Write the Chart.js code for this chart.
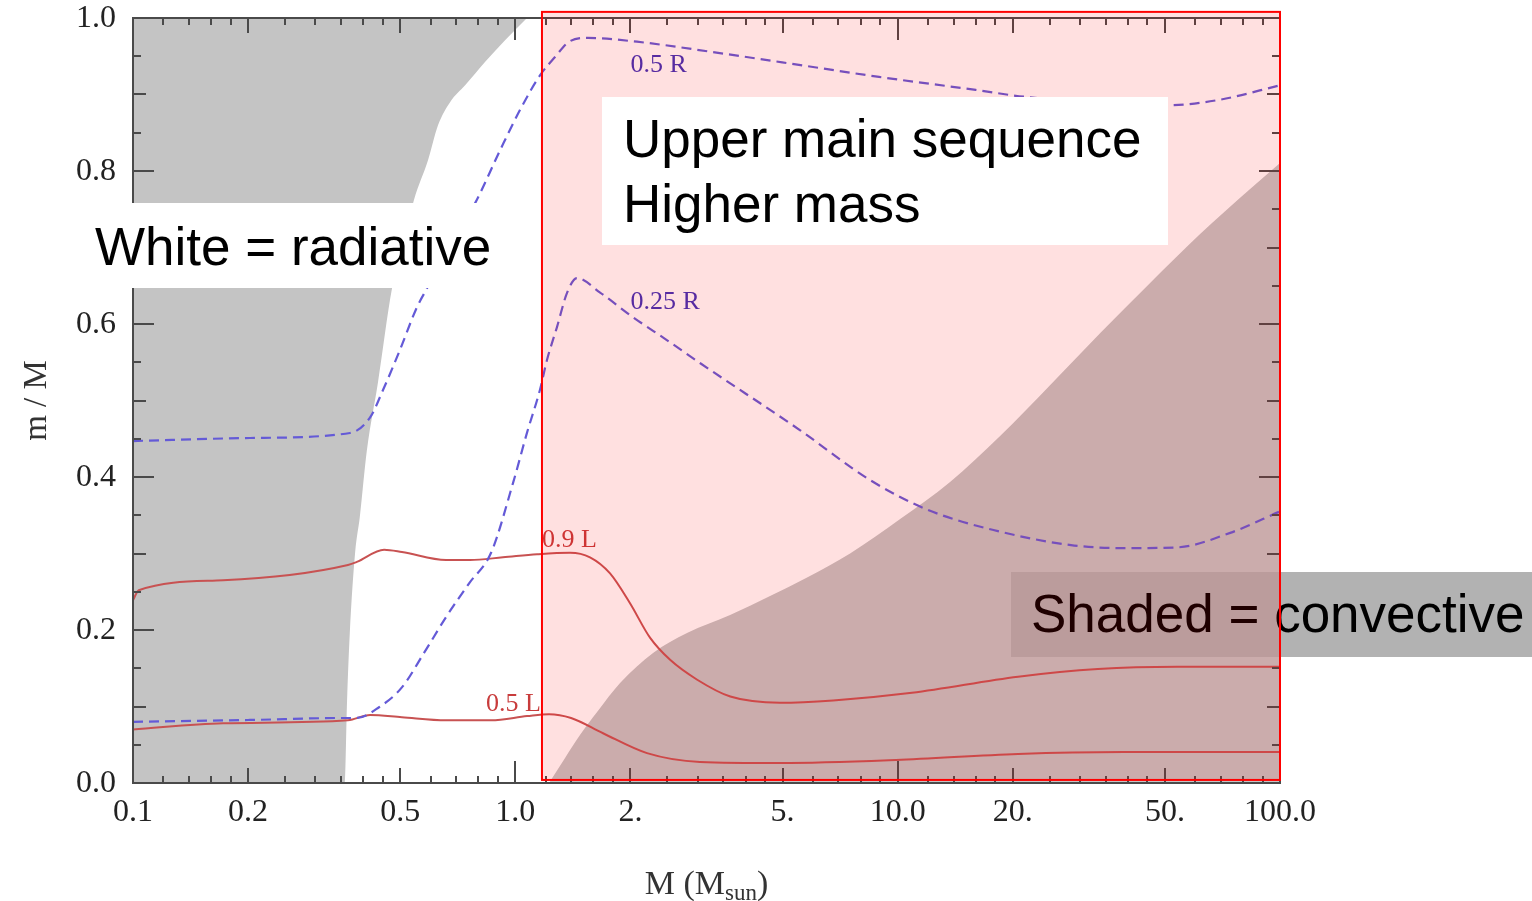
<!DOCTYPE html>
<html>
<head>
<meta charset="utf-8">
<script src="https://cdn.jsdelivr.net/npm/chart.js@4.4.1/dist/chart.umd.min.js"></script>
<style>
  body { margin: 0; background: #fff; }
  #wrap { width: 1532px; height: 901px; }
</style>
</head>
<body>
<div id="wrap"><canvas id="chart" width="1532" height="901"></canvas></div>
<script>
// x = stellar mass M (M_sun), y = m / M

// convective envelope (grey, left): lower edge of the shaded zone
var envelopeMass = [0.1, 0.358, 0.363, 0.369, 0.381, 0.392, 0.409, 0.437, 0.476, 0.512, 0.543, 0.591, 0.628, 0.675, 0.739, 0.833, 0.94, 1.073];
var envelopeEdge = [0.0, 0.0, 0.108, 0.196, 0.301, 0.348, 0.435, 0.523, 0.647, 0.710, 0.762, 0.814, 0.860, 0.890, 0.912, 0.9425, 0.971, 1.0];

// convective core (grey, right): upper edge of the shaded zone
var coreMass = [1.225, 1.349, 1.476, 1.636, 1.879, 2.292, 2.812, 3.645, 4.637, 5.761, 7.508, 10.15, 13.71, 18.53, 25.03, 33.83, 45.73, 61.8, 83.52, 100];
var coreEdge = [0.0, 0.0327, 0.0627, 0.0928, 0.1307, 0.170, 0.196, 0.2196, 0.2444, 0.268, 0.300, 0.345, 0.3935, 0.4536, 0.520, 0.588, 0.6536, 0.7176, 0.7765, 0.8105];

// radius contours (dashed)
var r50Mass = [0.1, 0.2023, 0.3695, 0.417, 0.451, 0.499, 0.553, 0.588, 0.675, 0.785, 0.912, 1.029, 1.16, 1.27, 1.382, 1.549, 2.08, 3.23, 4.99, 8.94, 16.0, 21.5, 51.6, 69.3, 100];
var r50Frac = [0.447, 0.451, 0.4575, 0.478, 0.514, 0.566, 0.622, 0.647, 0.703, 0.758, 0.827, 0.880, 0.925, 0.949, 0.969, 0.974, 0.969, 0.956, 0.942, 0.923, 0.906, 0.897, 0.886, 0.893, 0.912];

var r25Mass = [0.1, 0.202, 0.358, 0.385, 0.440, 0.505, 0.577, 0.659, 0.757, 0.864, 0.986, 1.073, 1.16, 1.21, 1.285, 1.366, 1.45, 1.666, 2.03, 2.49, 3.04, 5.56, 8.47, 12.0, 17.7, 28.4, 39.1, 53.8, 74.1, 100];
var r25Frac = [0.080, 0.0824, 0.085, 0.085, 0.099, 0.125, 0.170, 0.217, 0.261, 0.301, 0.392, 0.458, 0.514, 0.553, 0.596, 0.641, 0.660, 0.641, 0.609, 0.579, 0.549, 0.461, 0.396, 0.357, 0.331, 0.311, 0.307, 0.308, 0.327, 0.355];

// luminosity contours (solid)
var l90Mass = [0.1, 0.1035, 0.172, 0.365, 0.385, 0.4537, 0.505, 0.659, 0.761, 0.928, 1.14, 1.39, 1.568, 1.769, 1.995, 2.25, 2.54, 2.99, 3.65, 4.92, 6.78, 10.9, 20.65, 33.4, 53.8, 100];
var l90Frac = [0.239, 0.252, 0.265, 0.285, 0.289, 0.305, 0.302, 0.2915, 0.2915, 0.295, 0.299, 0.301, 0.295, 0.274, 0.235, 0.190, 0.161, 0.135, 0.113, 0.105, 0.108, 0.118, 0.139, 0.149, 0.152, 0.152];

var l50Mass = [0.1, 0.172, 0.365, 0.417, 0.505, 0.659, 0.864, 1.073, 1.225, 1.399, 1.696, 2.21, 3.04, 4.92, 9.90, 20.65, 39.1, 100];
var l50Frac = [0.070, 0.078, 0.082, 0.089, 0.086, 0.082, 0.082, 0.0875, 0.090, 0.085, 0.065, 0.039, 0.0275, 0.026, 0.030, 0.038, 0.0405, 0.0405];

// axis ticks
var xTickValues = [0.1, 0.2, 0.5, 1, 2, 5, 10, 20, 50, 100];
var xTickLabels = ['0.1', '0.2', '0.5', '1.0', '2.', '5.', '10.0', '20.', '50.', '100.0'];
var xMajorTicks = [0.1, 1, 10, 100];
var xMidTicks = [0.2, 0.5, 2, 5, 20, 50];
var xMinorTicks = [0.12, 0.14, 0.16, 0.18, 0.25, 0.3, 0.35, 0.4, 0.45, 0.6, 0.7, 0.8, 0.9,
                   1.2, 1.4, 1.6, 1.8, 2.5, 3, 3.5, 4, 4.5, 6, 7, 8, 9,
                   12, 14, 16, 18, 25, 30, 35, 40, 45, 60, 70, 80, 90];
var yTickValues = [0, 0.2, 0.4, 0.6, 0.8, 1.0];
var yTickLabels = ['0.0', '0.2', '0.4', '0.6', '0.8', '1.0'];
var yMidTicks = [0.1, 0.3, 0.5, 0.7, 0.9];
var yMinorTicks = [0.05, 0.15, 0.25, 0.35, 0.45, 0.55, 0.65, 0.75, 0.85, 0.95];

// contour labels [text, M, m/M at baseline, colour]
var curveLabels = [
  ['0.5 R', 2.0, 0.929, '#4032b8'],
  ['0.25 R', 2.0, 0.620, '#4032b8'],
  ['0.9 L', 1.174, 0.3085, '#c83c3c'],
  ['0.5 L', 0.838, 0.094, '#c83c3c']
];

// highlighted "upper main sequence" window (M range, m/M range)
var upperMass = [1.174, 100];
var upperFrac = [0.004, 1.008];

var grey = '#c4c4c4';
var blue = 'rgb(100,90,215)';
var red = '#c85252';

function pts(xs, ys) {
  return xs.map(function (x, i) { return { x: x, y: ys[i] }; });
}

var serif = "'Liberation Serif', 'Times New Roman', serif";
var sans = "'Liberation Sans', Arial, sans-serif";

var decor = {
  id: 'decor',
  afterDatasetsDraw: function (chart) {
    var ctx = chart.ctx, a = chart.chartArea;
    var xs = chart.scales.x, ys = chart.scales.y;
    ctx.save();
    ctx.strokeStyle = '#4a4a4a';
    ctx.lineWidth = 2;
    function seg(x1, y1, x2, y2) {
      ctx.beginPath(); ctx.moveTo(x1, y1); ctx.lineTo(x2, y2); ctx.stroke();
    }
    function xt(list, len) {
      list.forEach(function (v) {
        var p = Math.round(xs.getPixelForValue(v));
        seg(p, a.bottom, p, a.bottom - len);
        seg(p, a.top, p, a.top + len);
      });
    }
    function yt(list, len) {
      list.forEach(function (v) {
        var p = Math.round(ys.getPixelForValue(v));
        seg(a.left, p, a.left + len, p);
        seg(a.right, p, a.right - len, p);
      });
    }
    xt(xMajorTicks, 22); xt(xMidTicks, 15); xt(xMinorTicks, 7);
    yt(yTickValues, 21); yt(yMidTicks, 13); yt(yMinorTicks, 8);
    ctx.strokeRect(a.left, a.top, a.right - a.left, a.bottom - a.top);

    // y tick labels
    ctx.fillStyle = '#222';
    ctx.font = '32px ' + serif;
    ctx.textAlign = 'right';
    ctx.textBaseline = 'middle';
    yTickValues.forEach(function (v, i) {
      ctx.fillText(yTickLabels[i], a.left - 17, ys.getPixelForValue(v) + 1);
    });

    // contour labels
    ctx.font = '26px ' + serif;
    ctx.textBaseline = 'alphabetic';
    ctx.textAlign = 'left';
    curveLabels.forEach(function (l) {
      ctx.fillStyle = l[3];
      ctx.fillText(l[0], xs.getPixelForValue(l[1]), ys.getPixelForValue(l[2]));
    });

    // axis titles
    ctx.fillStyle = '#333';
    ctx.font = '34px ' + serif;
    var t1 = 'M (M', t2 = 'sun', t3 = ')';
    var w1 = ctx.measureText(t1).width, w3 = ctx.measureText(t3).width;
    ctx.font = '23px ' + serif;
    var w2 = ctx.measureText(t2).width;
    var cx = (a.left + a.right) / 2;
    var x0 = cx - (w1 + w2 + w3) / 2;
    ctx.font = '34px ' + serif;
    ctx.fillText(t1, x0, 894);
    ctx.fillText(t3, x0 + w1 + w2, 894);
    ctx.font = '23px ' + serif;
    ctx.fillText(t2, x0 + w1, 900);

    ctx.save();
    ctx.translate(46, (a.top + a.bottom) / 2);
    ctx.rotate(-Math.PI / 2);
    ctx.textAlign = 'center';
    ctx.font = '33px ' + serif;
    ctx.fillText('m / M', 0, 0);
    ctx.restore();

    // slide notes
    ctx.font = '53px ' + sans;
    ctx.fillStyle = '#ffffff';
    ctx.fillRect(78, 203, 432, 85);
    ctx.fillStyle = '#000';
    ctx.fillText('White = radiative', 95, 265);

    ctx.fillStyle = '#b2b2b2';
    ctx.fillRect(1011, 572, 521, 85);
    ctx.fillStyle = '#000';
    ctx.fillText('Shaded = convective', 1031, 632);

    // pink window over the upper main sequence
    var bx1 = xs.getPixelForValue(upperMass[0]), bx2 = xs.getPixelForValue(upperMass[1]);
    var by1 = ys.getPixelForValue(upperFrac[1]), by2 = ys.getPixelForValue(upperFrac[0]);
    ctx.fillStyle = 'rgba(255,0,0,0.12)';
    ctx.fillRect(bx1, by1, bx2 - bx1, by2 - by1);
    ctx.strokeStyle = '#ff0000';
    ctx.lineWidth = 2;
    ctx.strokeRect(bx1, by1, bx2 - bx1, by2 - by1);

    ctx.fillStyle = '#ffffff';
    ctx.fillRect(602, 97, 566, 148);
    ctx.fillStyle = '#000';
    ctx.fillText('Upper main sequence', 623, 157);
    ctx.fillText('Higher mass', 623, 222);
    ctx.restore();
  }
};

new Chart(document.getElementById('chart'), {
  type: 'line',
  data: {
    datasets: [
      { data: pts(r50Mass, r50Frac), borderColor: blue, borderWidth: 2.2, borderDash: [10, 6], fill: false, cubicInterpolationMode: 'monotone' },
      { data: pts(r25Mass, r25Frac), borderColor: blue, borderWidth: 2.2, borderDash: [10, 6], fill: false, cubicInterpolationMode: 'monotone' },
      { data: pts(l90Mass, l90Frac), borderColor: red, borderWidth: 2, fill: false, cubicInterpolationMode: 'monotone' },
      { data: pts(l50Mass, l50Frac), borderColor: red, borderWidth: 2, fill: false, cubicInterpolationMode: 'monotone' },
      { data: pts(coreMass, coreEdge), borderColor: 'rgba(0,0,0,0)', borderWidth: 0, backgroundColor: grey, fill: 'start', cubicInterpolationMode: 'monotone' },
      { data: pts(envelopeMass, envelopeEdge), borderColor: 'rgba(0,0,0,0)', borderWidth: 0, backgroundColor: grey, fill: 'end', cubicInterpolationMode: 'monotone' }
    ]
  },
  options: {
    responsive: false,
    animation: false,
    layout: { padding: { left: 0, top: 18, right: 252, bottom: 0 } },
    elements: { point: { radius: 0 } },
    plugins: { legend: { display: false }, tooltip: { enabled: false } },
    scales: {
      x: {
        type: 'logarithmic',
        min: 0.1,
        max: 100,
        grid: { display: false, drawTicks: false },
        border: { display: false },
        afterBuildTicks: function (s) {
          s.ticks = xTickValues.map(function (v) { return { value: v }; });
        },
        afterFit: function (s) { s.height = 118; },
        ticks: {
          autoSkip: false,
          maxRotation: 0,
          padding: 14,
          color: '#222',
          font: { family: serif, size: 32, lineHeight: 1 },
          callback: function (v) {
            var i = xTickValues.indexOf(v);
            return i < 0 ? '' : xTickLabels[i];
          }
        }
      },
      y: {
        min: 0,
        max: 1,
        grid: { display: false, drawTicks: false },
        border: { display: false },
        afterFit: function (s) { s.width = 133; },
        ticks: { display: false }
      }
    }
  },
  plugins: [decor]
});
</script>
</body>
</html>
